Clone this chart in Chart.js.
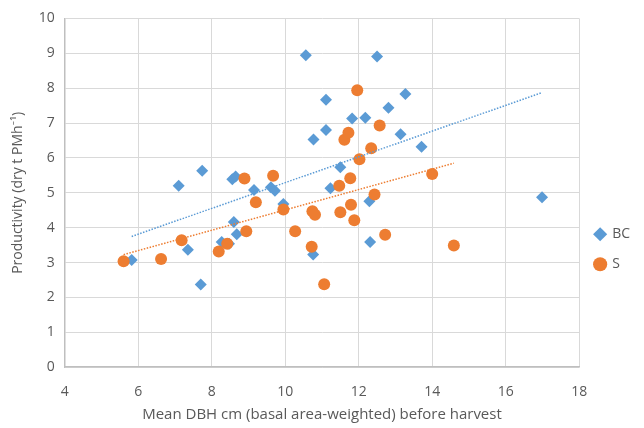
<!DOCTYPE html>
<html>
<head>
<meta charset="utf-8">
<script src="https://cdn.jsdelivr.net/npm/chart.js@4.4.0/dist/chart.umd.min.js"></script>
<style>
  html, body { margin: 0; padding: 0; background: #fff; }
  #wrap { width: 644px; height: 428px; }
</style>
</head>
<body>
<div id="wrap"><canvas id="chart" width="644" height="428"></canvas></div>
<script>
// Series data
const bcX = [5.82, 7.10, 7.35, 7.70, 7.74, 8.27, 8.47, 8.56, 8.65, 8.60, 8.68, 9.15, 9.61, 9.72, 9.95, 10.56,
             10.77, 10.76, 11.11, 11.11, 11.23, 11.50, 11.82, 12.18, 12.29, 12.31, 12.50, 12.81, 13.14, 13.27, 13.71, 16.99];
const bcY = [3.07, 5.20, 3.37, 2.37, 5.63, 3.59, 3.54, 5.39, 5.47, 4.16, 3.81, 5.08, 5.16, 5.06, 4.68, 8.94,
             6.53, 3.23, 7.67, 6.80, 5.13, 5.73, 7.13, 7.15, 4.76, 3.59, 8.91, 7.44, 6.68, 7.83, 6.32, 4.87];

const sX = [5.60, 6.62, 7.18, 8.19, 8.42, 8.89, 8.94, 9.20, 9.67, 9.95, 10.27, 10.72, 10.74, 10.81, 11.06, 11.47,
            11.50, 11.61, 11.72, 11.77, 11.79, 11.88, 11.96, 12.02, 12.34, 12.43, 12.57, 12.72, 14.00, 14.59];
const sY = [3.04, 3.10, 3.64, 3.32, 3.54, 5.41, 3.90, 4.73, 5.49, 4.52, 3.90, 3.45, 4.47, 4.37, 2.38, 5.20,
            4.44, 6.52, 6.72, 5.42, 4.66, 4.21, 7.94, 5.96, 6.28, 4.95, 6.93, 3.80, 5.54, 3.49];

const seriesNames = ['BC', 'S'];
const xTitle = 'Mean DBH cm (basal area-weighted) before harvest';
const yTitle = 'Productivity (dry t PMh\u207B\u00B9)';

const blue = '#5B9BD5';
const orange = '#ED7D31';

// Build point objects for chart.js
function toPoints(xs, ys) {
    return xs.map((x, i) => ({ x: x, y: ys[i] }));
}

// Linear trendline (least squares) over the range of the series
function trendline(xs, ys) {
    const n = xs.length;
    const mx = xs.reduce((a, b) => a + b, 0) / n;
    const my = ys.reduce((a, b) => a + b, 0) / n;
    let sxy = 0, sxx = 0;
    for (let i = 0; i < n; i++) {
        sxy += (xs[i] - mx) * (ys[i] - my);
        sxx += (xs[i] - mx) * (xs[i] - mx);
    }
    const slope = sxy / sxx;
    const icpt = my - slope * mx;
    const x0 = Math.min(...xs), x1 = Math.max(...xs);
    return [{ x: x0, y: icpt + slope * x0 }, { x: x1, y: icpt + slope * x1 }];
}

const font = "'Open Sans', Lato, sans-serif";
const tickColor = '#595959';

new Chart(document.getElementById('chart').getContext('2d'), {
    type: 'scatter',
    data: {
        datasets: [
            {
                label: seriesNames[0],
                data: toPoints(bcX, bcY),
                pointStyle: 'rectRot',
                pointRadius: 6,
                backgroundColor: blue,
                borderColor: blue,
                borderWidth: 0,
                order: 2
            },
            {
                label: seriesNames[1],
                data: toPoints(sX, sY),
                pointStyle: 'circle',
                pointRadius: 6,
                backgroundColor: orange,
                borderColor: orange,
                borderWidth: 0,
                order: 1
            },
            {
                label: 'trend-BC',
                type: 'line',
                data: trendline(bcX, bcY),
                borderColor: blue,
                borderWidth: 1.5,
                borderDash: [1.5, 1.5],
                pointRadius: 0,
                fill: false,
                order: 0
            },
            {
                label: 'trend-S',
                type: 'line',
                data: trendline(sX, sY),
                borderColor: orange,
                borderWidth: 1.5,
                borderDash: [1.5, 1.5],
                pointRadius: 0,
                fill: false,
                order: 0
            }
        ]
    },
    options: {
        responsive: false,
        animation: false,
        layout: {
            padding: { top: 2, right: 4, bottom: 4, left: 6 }
        },
        scales: {
            x: {
                type: 'linear',
                min: 4,
                max: 18,
                ticks: { stepSize: 2, color: tickColor, font: { family: font, size: 14 }, padding: 16 },
                grid: { color: '#d9d9d9', drawTicks: false },
                border: { color: '#bfbfbf', width: 1.5 },
                title: { display: true, text: xTitle, color: tickColor, font: { family: font, size: 15 }, padding: { top: -10, bottom: 0 } }
            },
            y: {
                min: 0,
                max: 10,
                ticks: { stepSize: 1, color: tickColor, font: { family: font, size: 14 }, padding: 10 },
                grid: { color: '#d9d9d9', drawTicks: false },
                border: { color: '#bfbfbf', width: 1.5 },
                title: { display: true, text: yTitle, color: tickColor, font: { family: font, size: 14 }, padding: { bottom: 2 } }
            }
        },
        plugins: {
            legend: {
                position: 'right',
                // empty title only pushes the legend entries lower, as in the original
                title: { display: true, text: ' ', padding: { top: 58, bottom: 0 } },
                labels: {
                    usePointStyle: true,
                    boxWidth: 10,
                    boxHeight: 10,
                    color: tickColor,
                    font: { family: font, size: 14 },
                    padding: 16,
                    filter: item => seriesNames.includes(item.text),
                    sort: (a, b) => a.datasetIndex - b.datasetIndex
                }
            },
            tooltip: { enabled: false }
        }
    }
});
</script>
</body>
</html>
